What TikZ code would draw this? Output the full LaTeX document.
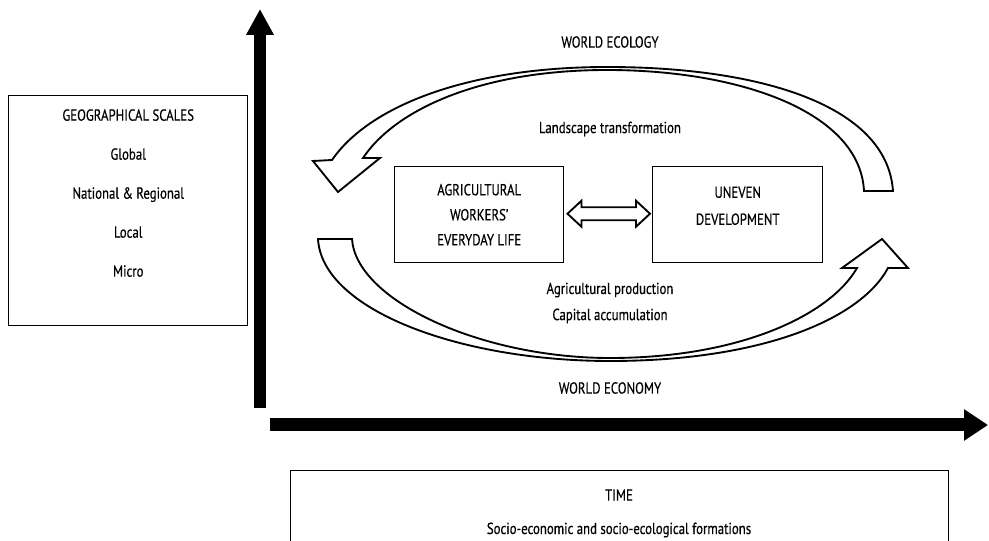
\documentclass[tikz,border=0pt]{standalone}
\usepackage{fontspec}
\setmainfont{PT Sans}[FakeStretch=0.8,FakeBold=0.4]
\usetikzlibrary{arrows.meta,calc}
\tikzset{
  box/.style={draw=black, line width=1.1pt, inner sep=0pt, anchor=north west},
  txt/.style={font=\fontsize{12}{14}\selectfont, inner sep=0pt},
  hollow/.style={draw=black, fill=white, line width=1.4pt, line join=miter},
  axisv/.style={line width=9pt, -{Triangle[length=19.5pt,width=19.5pt]}},
  axish/.style={line width=9.75pt, -{Triangle[length=18pt,width=22.5pt]}},
}
\begin{document}
\begin{tikzpicture}[x=0.75pt,y=-0.75pt]
\useasboundingbox (0,0) rectangle (989,541);
\fill[white] (0,0) rectangle (989,541);

% axes
\coordinate (ybot) at (260,408);
\coordinate (ytop) at (260,9);
\coordinate (xleft) at (270,425);
\coordinate (xright) at (988,425);
\draw[axisv] (ybot) -- (ytop);
\draw[axish] (xleft) -- (xright);

% left box
\node[box, minimum width=239*0.75pt, minimum height=230*0.75pt] (geo) at (8,95) {};
\node[txt, anchor=north, align=center, font=\fontsize{12}{29.25}\selectfont] (geotxt) at ($(geo.north)+(0,14)$)
  {GEOGRAPHICAL SCALES\\Global\\National \& Regional\\Local\\Micro};

% bottom box
\node[box, minimum width=658*0.75pt, minimum height=100*0.75pt] (time) at (290,470) {};
\node[txt] (timet) at (619,495) {TIME};
\node[txt] (timef) at (619,530) {Socio-economic and socio-ecological formations};

% central boxes
\node[box, minimum width=169*0.75pt, minimum height=96*0.75pt] (agri) at (394,166) {};
\node[txt, align=center, font=\fontsize{12}{18.75}\selectfont] (agrit) at (agri.center) {AGRICULTURAL\\WORKERS'\\EVERYDAY LIFE};
\node[box, minimum width=170*0.75pt, minimum height=96*0.75pt] (uneven) at (652,166) {};
\node[txt, align=center, font=\fontsize{12}{20.25}\selectfont] (event) at ($(uneven.center)+(0,-9)$) {UNEVEN\\DEVELOPMENT};

% double arrow between central boxes
\coordinate (L) at ($(agri.east)+(3,-1)$);
\coordinate (R) at ($(uneven.west)+(-2,-1)$);
\draw[hollow] (L) -- ($(L)+(14,-13)$) -- ($(L)+(14,-6.5)$) -- ($(R)+(-14,-6.5)$) -- ($(R)+(-14,-13)$)
  -- (R) -- ($(R)+(-14,13)$) -- ($(R)+(-14,6.5)$) -- ($(L)+(14,6.5)$) -- ($(L)+(14,13)$) -- cycle;

% top curved arrow (world ecology)
\draw[hollow] (864,191) -- (893,191)
  .. controls (887,105) and (760,67) .. (607,67)
  .. controls (470,67) and (370,105) .. (332,160)
  -- (313,161) -- (338,192) -- (380,158) -- (363,158)
  .. controls (395,110) and (480,70) .. (607,70)
  .. controls (740,70) and (860,112) .. (864,191) -- cycle;

% bottom curved arrow (world economy)
\draw[hollow] (318,239) -- (352,239)
  .. controls (356,300) and (480,358) .. (610,358)
  .. controls (740,358) and (830,315) .. (857,268)
  -- (842,268) -- (882,239) -- (908,268) -- (888,268)
  .. controls (860,320) and (760,361) .. (610,361)
  .. controls (460,361) and (322,310) .. (318,239) -- cycle;

% labels
\node[txt] (eco) at (610,42) {WORLD ECOLOGY};
\node[txt] (econ) at (610,388) {WORLD ECONOMY};
\node[txt] (land) at (610,129) {Landscape transformation};
\node[txt] (prod) at (610,290) {Agricultural production};
\node[txt] (cap) at (610,316) {Capital accumulation};
\end{tikzpicture}
\end{document}
